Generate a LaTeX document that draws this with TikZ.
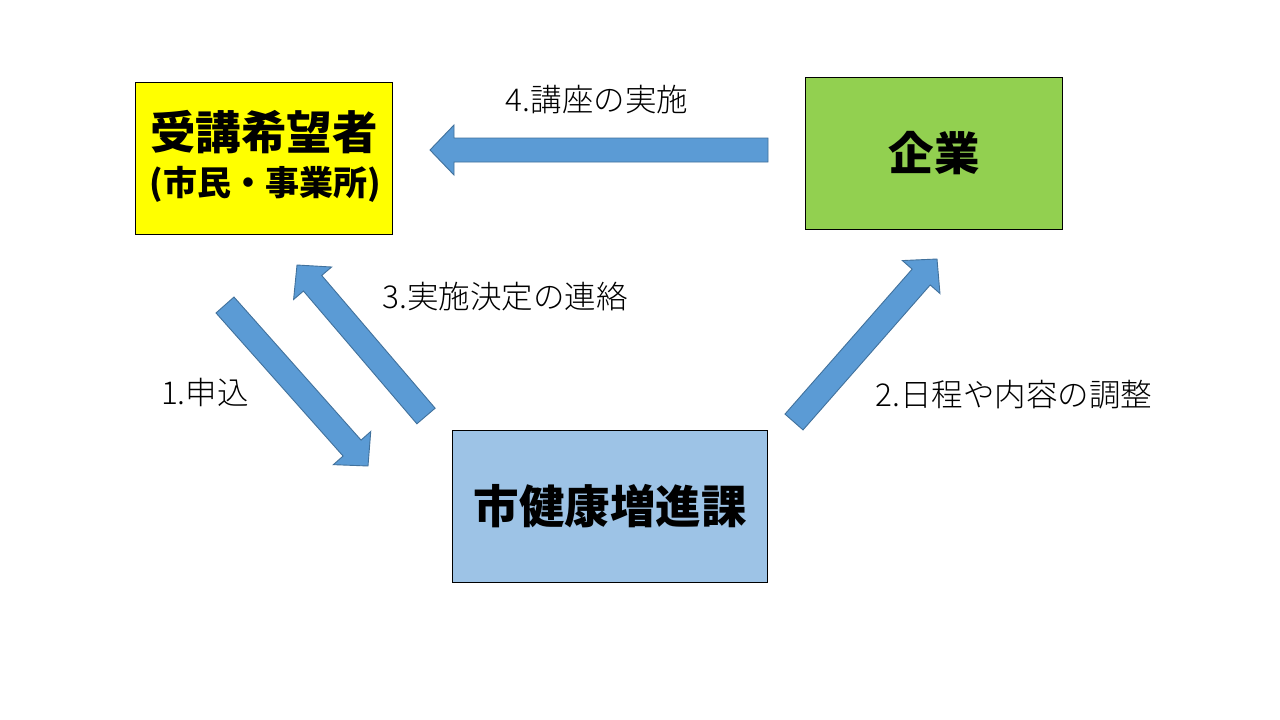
\documentclass[tikz,border=0pt]{standalone}
\usepackage{fontspec}
\setmainfont{Noto Sans CJK JP}
\newfontfamily\jpblack{Noto Sans CJK JP Black}
\newfontfamily\jplight{Noto Sans CJK JP Light}
\usetikzlibrary{calc}
\definecolor{arrowblue}{HTML}{5B9BD5}
\definecolor{arrowedge}{HTML}{41719C}
\definecolor{boxyellow}{HTML}{FFFF00}
\definecolor{boxgreen}{HTML}{92D050}
\definecolor{boxblue}{HTML}{9DC3E6}
\newcommand\blockarrow[2]{%
  \path ($(#2)!24pt!(#1)$) coordinate (nk);
  \draw[barrow] ($(#1)!12pt!90:(#2)$) -- ($(nk)!12pt!90:(#2)$) -- ($(nk)!25pt!90:(#2)$) -- (#2)
     -- ($(nk)!25pt!-90:(#2)$) -- ($(nk)!12pt!-90:(#2)$) -- ($(#1)!12pt!-90:(#2)$) -- cycle;
}
\begin{document}
\begin{tikzpicture}[x=1pt,y=-1pt,
  boxbase/.style={draw=black,line width=1.1pt,inner sep=0pt,anchor=north west},
  bigtxt/.style={font=\fontsize{45.5}{50}\selectfont\jpblack,inner sep=0pt},
  midtxt/.style={font=\fontsize{34}{40}\selectfont\jpblack,inner sep=0pt},
  lbl/.style={font=\fontsize{31.5}{36}\selectfont\jplight,inner sep=0pt},
  barrow/.style={fill=arrowblue,draw=arrowedge,line width=0.9pt,line join=miter}]
\path[use as bounding box,fill=white] (0,0) rectangle (1280,720);
% boxes
\node[boxbase,fill=boxyellow,minimum width=257pt,minimum height=152pt] (ybox) at (135,82) {};
\node[boxbase,fill=boxgreen,minimum width=257pt,minimum height=152pt] (gbox) at (805,77) {};
\node[boxbase,fill=boxblue,minimum width=315pt,minimum height=152pt] (bbox) at (452,430) {};
\node[bigtxt] (yt1) at (264,132) {受講希望者};
\node[midtxt] (yt2) at (265,184) {(市民・事業所)};
\node[bigtxt] (gt) at (gbox.center) {企業};
\node[bigtxt] (bt) at (bbox.center) {市健康増進課};
% arrow ends
\coordinate (a4s) at (768,150); \coordinate (a4e) at (430,150);
\coordinate (a1s) at (225,305); \coordinate (a1e) at (368,466);
\coordinate (a3s) at (426,416); \coordinate (a3e) at (297,265);
\coordinate (a2s) at (794,422); \coordinate (a2e) at (937,259);
\blockarrow{a4s}{a4e}
\blockarrow{a1s}{a1e}
\blockarrow{a3s}{a3e}
\blockarrow{a2s}{a2e}
% labels
\node[lbl] (l4) at (597,100) {4.講座の実施};
\node[lbl] (l3) at (505,297) {3.実施決定の連絡};
\node[lbl] (l1) at (205,392) {1.申込};
\node[lbl] (l2) at (1014,395) {2.日程や内容の調整};
\end{tikzpicture}
\end{document}
